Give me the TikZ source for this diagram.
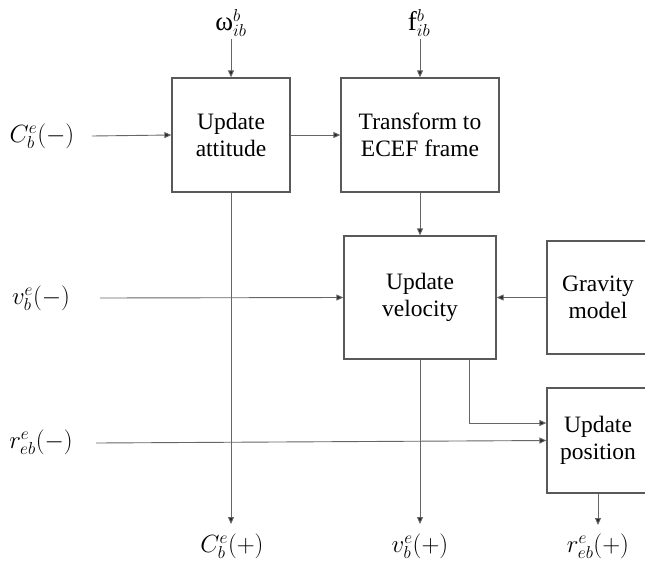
\documentclass[tikz,border=0pt]{standalone}
\usepackage{fontspec}
\setmainfont{Liberation Serif}
\usetikzlibrary{arrows.meta}
\begin{document}
\begin{tikzpicture}[x=1pt,y=-1pt,
  blk/.style={draw=black!65,line width=1.3pt,rectangle,inner sep=0pt,align=center,
    font=\fontsize{23.5}{27.5}\selectfont},
  lbl/.style={inner sep=0pt,font=\fontsize{23}{27}\selectfont},
  toplbl/.style={inner sep=0pt,font=\fontsize{27}{31}\selectfont},
  conn/.style={draw=black!60,line width=0.9pt,-{Triangle[length=7pt,width=6pt,fill=black!85]}},
  plain/.style={draw=black!60,line width=0.9pt}]
\useasboundingbox (0,0) rectangle (645,568);
\clip (0,0) rectangle (645,568);
% blocks
\node[blk,minimum width=118pt,minimum height=114pt] (att) at (231,135) {Update\\attitude};
\node[blk,minimum width=158pt,minimum height=114pt] (trf) at (420,135) {Transform to\\ECEF frame};
\node[blk,minimum width=152pt,minimum height=123pt] (vel) at (420,297.5) {Update\\velocity};
\node[blk,minimum width=102pt,minimum height=113pt] (grav) at (598,297.5) {Gravity\\model};
\node[blk,minimum width=102pt,minimum height=105pt] (pos) at (598,440.5) {Update\\position};
% labels
\node[toplbl] (om) at (231,23) {ω${}^{b}_{ib}$};
\node[toplbl] (fib) at (419,23) {f${}^{b}_{ib}$};
\node[lbl] (cm) at (42,136) {$C^{e}_{b}(-)$};
\node[lbl] (vm) at (41,298) {$v^{e}_{b}(-)$};
\node[lbl] (rm) at (41,442) {$r^{e}_{eb}(-)$};
\node[lbl] (cp) at (232,546) {$C^{e}_{b}(+)$};
\node[lbl] (vp) at (420,546) {$v^{e}_{b}(+)$};
\node[lbl] (rp) at (598,546) {$r^{e}_{eb}(+)$};
% connector end points
\coordinate (omS) at (231,39);
\coordinate (fS) at (420,39);
\coordinate (cmS) at (92,136);
\coordinate (vmS) at (100,298);
\coordinate (rmS) at (96,443);
\coordinate (cpE) at (231,524);
\coordinate (vpE) at (420,524);
\coordinate (rpE) at (598,525);
\coordinate (velA) at (469,359);
\coordinate (velB) at (469,423);
% connectors
\draw[conn] (omS) -- (att.north);
\draw[conn] (fS) -- (trf.north);
\draw[conn] (cmS) -- (att.west);
\draw[conn] (att.east) -- (trf.west);
\draw[conn] (trf.south) -- (vel.north);
\draw[conn] (vmS) -- (vel.west);
\draw[conn] (grav.west) -- (vel.east);
\draw[conn] (att.south) -- (cpE);
\draw[conn] (vel.south) -- (vpE);
\draw[conn] (velA) -- (velB) -- (velB -| pos.west);
\draw[conn] (rmS) -- (pos.west);
\draw[conn] (pos.south) -- (rpE);
\end{tikzpicture}
\end{document}
